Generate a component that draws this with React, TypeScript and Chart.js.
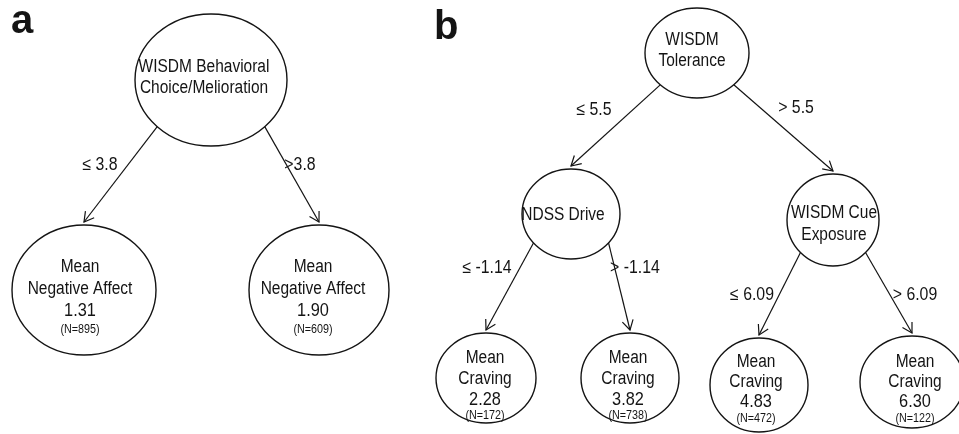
import React, { useEffect, useRef } from "react";
import { Chart, registerables } from "chart.js";

Chart.register(...registerables);

// ---------------- data ----------------
const panelLetters = ["a", "b"];
const splitVariables = [
  "WISDM Behavioral\nChoice/Melioration",
  "WISDM\nTolerance",
  "NDSS Drive",
  "WISDM Cue\nExposure",
];
const splitLabels = ["≤ 3.8", ">3.8", "≤ 5.5", "> 5.5", "≤ -1.14", "> -1.14", "≤ 6.09", "> 6.09"];
const leafOutcomes = [
  "Mean\nNegative Affect",
  "Mean\nNegative Affect",
  "Mean\nCraving",
  "Mean\nCraving",
  "Mean\nCraving",
  "Mean\nCraving",
];
const leafMeans = [1.31, 1.9, 2.28, 3.82, 4.83, 6.3];
const leafCounts = [895, 609, 172, 738, 472, 122];

// ---------------- layout (pixel-space value units) ----------------
const panelLetterPos = [
  { x: 11, y: 33 },
  { x: 434, y: 39 },
];

type NodeLayout = {
  kind: "split" | "leaf";
  idx: number;
  x: number;
  y: number;
  rx: number;
  ry: number;
  tx: number;
  ty: number;
  lh: number;
  nGap: number;
};

const nodeLayout: NodeLayout[] = [
  { kind: "split", idx: 0, x: 211, y: 80, rx: 76, ry: 66, tx: 204, ty: 67, lh: 21, nGap: 0 },
  { kind: "leaf", idx: 0, x: 84, y: 290, rx: 72, ry: 65, tx: 80, ty: 267, lh: 22, nGap: 19 },
  { kind: "leaf", idx: 1, x: 319, y: 290, rx: 70, ry: 65, tx: 313, ty: 267, lh: 22, nGap: 19 },
  { kind: "split", idx: 1, x: 697, y: 53, rx: 52, ry: 45, tx: 692, ty: 40, lh: 21, nGap: 0 },
  { kind: "split", idx: 2, x: 571, y: 214, rx: 49, ry: 45, tx: 563, ty: 215, lh: 21, nGap: 0 },
  { kind: "split", idx: 3, x: 833, y: 220, rx: 46, ry: 46, tx: 834, ty: 213, lh: 22, nGap: 0 },
  { kind: "leaf", idx: 2, x: 486, y: 378, rx: 50, ry: 45, tx: 485, ty: 358, lh: 21, nGap: 16 },
  { kind: "leaf", idx: 3, x: 630, y: 378, rx: 49, ry: 45, tx: 628, ty: 358, lh: 21, nGap: 16 },
  { kind: "leaf", idx: 4, x: 759, y: 385, rx: 49, ry: 47, tx: 756, ty: 362, lh: 20, nGap: 17 },
  { kind: "leaf", idx: 5, x: 912, y: 382, rx: 52, ry: 46, tx: 915, ty: 362, lh: 20, nGap: 17 },
];

const edgeLayout = [
  { from: 0, to: 1, label: 0, angle: 135, lx: 100, ly: 165 },
  { from: 0, to: 2, label: 1, angle: 45, lx: 300, ly: 165 },
  { from: 3, to: 4, label: 2, angle: 135, lx: 594, ly: 110 },
  { from: 3, to: 5, label: 3, angle: 45, lx: 796, ly: 108 },
  { from: 4, to: 6, label: 4, angle: 140, lx: 487, ly: 268 },
  { from: 4, to: 7, label: 5, angle: 40, lx: 635, ly: 268 },
  { from: 5, to: 8, label: 6, angle: 135, lx: 752, ly: 295 },
  { from: 5, to: 9, label: 7, angle: 45, lx: 915, ly: 295 },
];

const INK = "#141414";
const FONT = '"Liberation Sans", Arial, sans-serif';

function edgePoints(e: (typeof edgeLayout)[number]) {
  const p = nodeLayout[e.from];
  const c = nodeLayout[e.to];
  const a = (e.angle * Math.PI) / 180;
  return [
    { x: p.x + p.rx * Math.cos(a), y: p.y + p.ry * Math.sin(a) },
    { x: c.x, y: c.y - c.ry - 3 },
  ];
}

function nodeLines(n: NodeLayout): { text: string; size: number; y: number }[] {
  if (n.kind === "split") {
    return splitVariables[n.idx].split("\n").map((t, i) => ({ text: t, size: 18, y: n.ty + i * n.lh }));
  }
  const lines = leafOutcomes[n.idx].split("\n").map((t, i) => ({ text: t, size: 18, y: n.ty + i * n.lh }));
  const meanY = n.ty + lines.length * n.lh;
  lines.push({ text: leafMeans[n.idx].toFixed(2), size: 19, y: meanY });
  lines.push({ text: `(N=${leafCounts[n.idx]})`, size: 12.5, y: meanY + n.nGap });
  return lines;
}

function drawScaledText(
  ctx: CanvasRenderingContext2D,
  text: string,
  x: number,
  y: number,
  size: number,
  sx: number,
  bold = false,
  align: CanvasTextAlign = "center",
  baseline: CanvasTextBaseline = "middle"
) {
  ctx.save();
  ctx.translate(x, y);
  ctx.scale(sx, 1);
  ctx.font = `${bold ? "bold " : ""}${size}px ${FONT}`;
  ctx.textAlign = align;
  ctx.textBaseline = baseline;
  ctx.fillStyle = INK;
  ctx.fillText(text, 0, 0);
  ctx.restore();
}

const treePlugin = {
  id: "treeDecor",
  afterDatasetsDraw(chart: any) {
    const ctx: CanvasRenderingContext2D = chart.ctx;
    const xs = chart.scales.x;
    const ys = chart.scales.y;
    const px = (v: number) => xs.getPixelForValue(v);
    const py = (v: number) => ys.getPixelForValue(v);

    // arrowheads on edge datasets
    chart.data.datasets.forEach((ds: any, di: number) => {
      if (ds.role !== "edge") return;
      const meta = chart.getDatasetMeta(di);
      const a = meta.data[0];
      const b = meta.data[1];
      const ang = Math.atan2(b.y - a.y, b.x - a.x);
      const len = 11;
      const spread = (30 * Math.PI) / 180;
      ctx.save();
      ctx.strokeStyle = INK;
      ctx.lineWidth = 1.2;
      ctx.beginPath();
      ctx.moveTo(b.x - len * Math.cos(ang - spread), b.y - len * Math.sin(ang - spread));
      ctx.lineTo(b.x, b.y);
      ctx.lineTo(b.x - len * Math.cos(ang + spread), b.y - len * Math.sin(ang + spread));
      ctx.stroke();
      ctx.restore();
    });

    // node ellipses and texts
    const nodeDsIndex = chart.data.datasets.findIndex((d: any) => d.role === "nodes");
    const nodeMeta = chart.getDatasetMeta(nodeDsIndex);
    nodeLayout.forEach((n, i) => {
      const el = nodeMeta.data[i];
      const rxp = Math.abs(px(n.x + n.rx) - px(n.x));
      const ryp = Math.abs(py(n.y + n.ry) - py(n.y));
      ctx.save();
      ctx.strokeStyle = INK;
      ctx.lineWidth = 1.4;
      ctx.beginPath();
      ctx.ellipse(el.x, el.y, rxp, ryp, 0, 0, Math.PI * 2);
      ctx.stroke();
      ctx.restore();
      nodeLines(n).forEach((ln) => {
        drawScaledText(ctx, ln.text, px(n.tx), py(ln.y), ln.size, 0.86);
      });
    });

    // edge labels
    edgeLayout.forEach((e) => {
      drawScaledText(ctx, splitLabels[e.label], px(e.lx), py(e.ly), 18, 0.88);
    });

    // panel letters
    panelLetters.forEach((t, i) => {
      const p = panelLetterPos[i];
      drawScaledText(ctx, t, px(p.x), py(p.y), 40, 1, true, "left", "alphabetic");
    });
  },
};

export default function App() {
  const canvasRef = useRef<HTMLCanvasElement | null>(null);

  useEffect(() => {
    if (!canvasRef.current) return;
    const edgeDatasets = edgeLayout.map((e) => ({
      type: "line" as const,
      role: "edge",
      data: edgePoints(e),
      borderColor: INK,
      borderWidth: 1.2,
      pointRadius: 0,
      fill: false,
      showLine: true,
      clip: false,
    }));
    const chart = new Chart(canvasRef.current, {
      type: "scatter",
      data: {
        datasets: [
          ...edgeDatasets,
          {
            role: "nodes",
            data: nodeLayout.map((n) => ({ x: n.x, y: n.y })),
            pointRadius: 0,
            clip: false,
          } as any,
        ] as any,
      },
      options: {
        animation: false,
        responsive: true,
        maintainAspectRatio: false,
        devicePixelRatio: 1,
        layout: { padding: 0 },
        plugins: { legend: { display: false }, tooltip: { enabled: false } },
        events: [],
        scales: {
          x: { type: "linear", min: 0, max: 959, display: false },
          y: { type: "linear", min: 0, max: 434, reverse: true, display: false },
        },
      },
      plugins: [treePlugin],
    });
    return () => chart.destroy();
  }, []);

  return (
    <div style={{ position: "absolute", left: 0, top: 0, width: 959, height: 434, background: "#fff" }}>
      <canvas ref={canvasRef} />
    </div>
  );
}
